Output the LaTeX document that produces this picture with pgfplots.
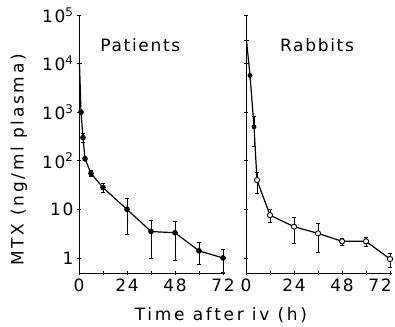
\documentclass[border=0pt]{standalone}
\usepackage{pgfplots}
\pgfplotsset{compat=1.18}
\usepackage{fontspec}
\setmainfont{DejaVu Sans}
\newfontfamily\lab[LetterSpace=10]{DejaVu Sans}
\newfontfamily\alab[LetterSpace=16]{DejaVu Sans}
\begin{document}
\begin{tikzpicture}
\path[use as bounding box] (-79pt,-53pt) rectangle (316pt,273pt);
% Patients
\begin{semilogyaxis}[scale only axis, width=146pt, height=258pt,
  at={(0pt,0pt)}, anchor=south west,
  xmin=0, xmax=73, ymin=0.49, ymax=100000,
  axis lines=left, axis line style={-, line width=0.9pt},
  xtick={0,24,48,72}, minor xtick={12,36,60},
  xticklabels={0,24,48,72},
  ytick={1,10,100,1000,10000,100000},
  yticklabels={1,10,10\textsuperscript{2},10\textsuperscript{3},10\textsuperscript{4},10\textsuperscript{5}},
  yminorticks=false,
  major tick length=4pt, minor tick length=4pt,
  tick style={black, line width=0.8pt},
  tick label style={font=\fontsize{17}{19}\lab},
  clip=false]
\addplot[black, line width=1.2pt, mark=*, mark size=2.2pt, mark indices={2,...,11},
  error bars/y dir=both, error bars/y explicit,
  error bars/error mark options={rotate=90, mark size=2.2pt, line width=0.8pt},
  error bars/error bar style={line width=0.8pt}]
 table[x=t, y=c, y error=e] {
t c e
0.25 10000 0
1 1000 0
2 300 60
3 110 0
6 55 8
12 28 6
24 10 7
36 3.5 2.5
48 3.3 2.4
60 1.4 0.65
72 1.0 0.5
};
\node[font=\fontsize{17}{19}\lab] at (rel axis cs:0.42,0.884) {Patients};
\end{semilogyaxis}
% Rabbits
\begin{semilogyaxis}[scale only axis, width=146pt, height=258pt,
  at={(167pt,0pt)}, anchor=south west,
  xmin=0, xmax=73, ymin=0.49, ymax=100000,
  axis lines=left, axis line style={-, line width=0.9pt},
  xtick={0,24,48,72}, minor xtick={12,36,60},
  xticklabels={0,24,48,{\hspace*{-20pt}72}},
  ytick={1,10,100,1000,10000,100000},
  yticklabels={},
  yminorticks=false,
  major tick length=4pt, minor tick length=4pt,
  tick style={black, line width=0.8pt},
  tick label style={font=\fontsize{17}{19}\lab},
  clip=false]
\addplot[black, line width=1.2pt, mark=*, mark size=2.6pt, mark options={fill=white, line width=0.9pt}, mark indices={4,...,10},
  error bars/y dir=both, error bars/y explicit,
  error bars/error mark options={rotate=90, mark size=2.2pt, line width=0.8pt},
  error bars/error bar style={line width=0.8pt}]
 table[x=t, y=c, y error=e] {
t c e
0.25 30000 0
2 5700 0
4 500 300
5.5 40 19
12 7.6 2.3
24 4.4 2.4
36 3.2 1.9
48 2.2 0.35
60 2.2 0.45
72 0.95 0.3
};
\addplot[black, only marks, mark=*, mark size=2.2pt] table[x=t, y=c] {
t c
2 5700
4 500
};
\node[font=\fontsize{17}{19}\lab] at (rel axis cs:0.486,0.884) {Rabbits};
\end{semilogyaxis}
\node[rotate=90, font=\fontsize{17}{19}\alab] at (-60pt,113pt) {MTX (ng/ml plasma)};
\node[font=\fontsize{17}{19}\alab] at (142pt,-42pt) {Time after iv (h)};
\end{tikzpicture}
\end{document}
